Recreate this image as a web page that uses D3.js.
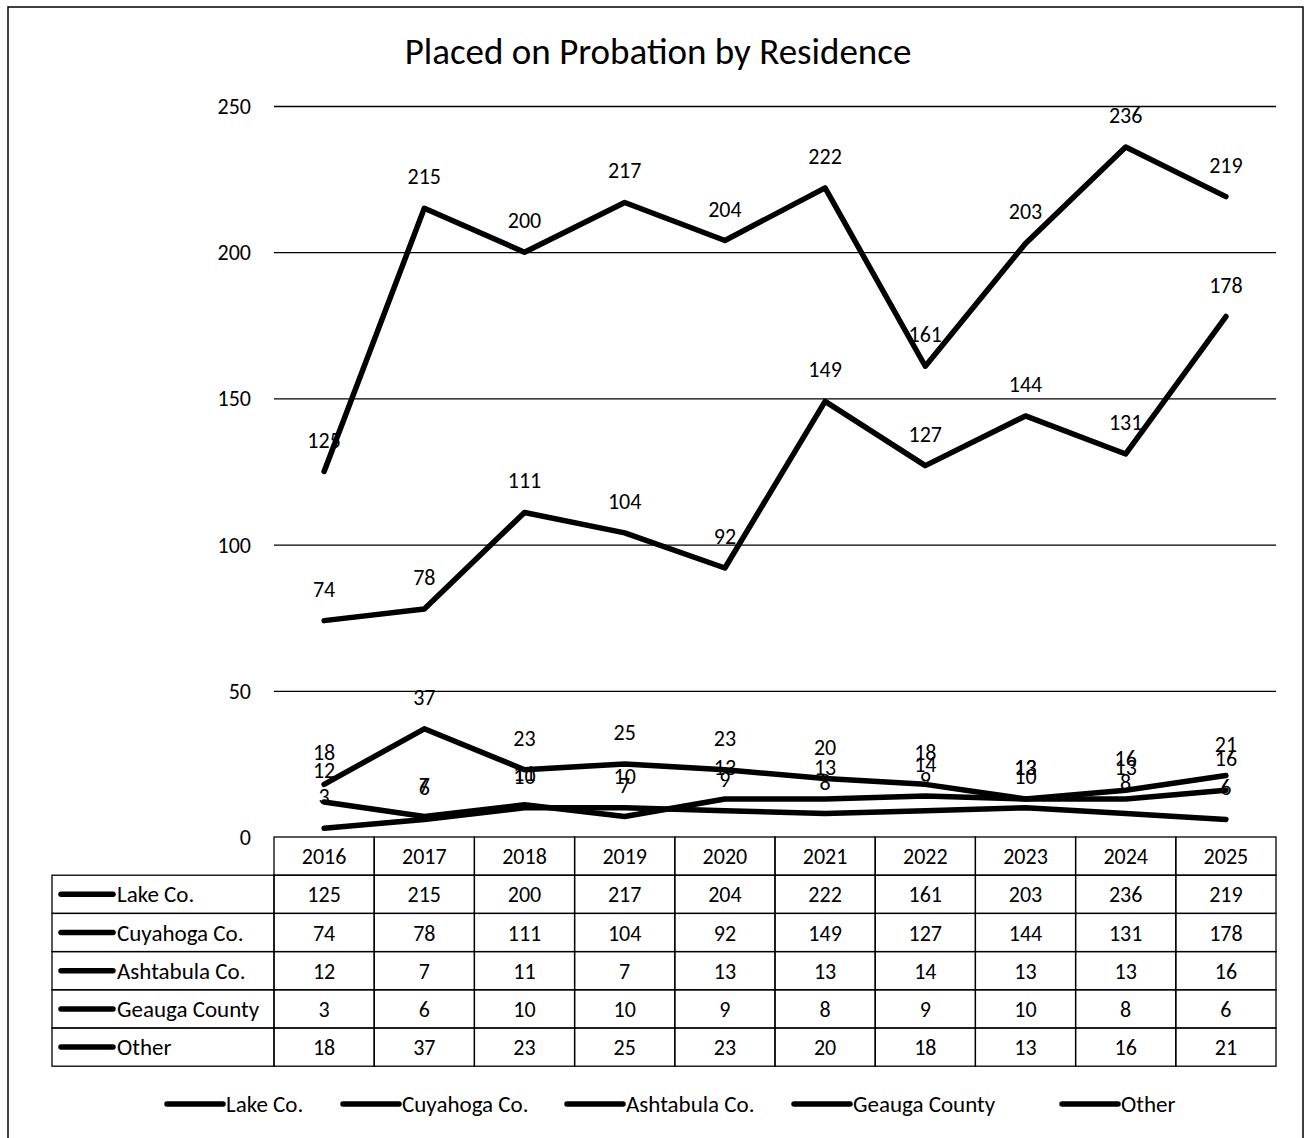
<!DOCTYPE html>
<html>
<head>
<meta charset="utf-8">
<script src="https://cdn.jsdelivr.net/npm/d3@7"></script>
<style>
  body { margin: 0; background: #fff; }
  svg text { font-family: Calibri, Carlito, Lato, sans-serif; fill: #000; }
</style>
</head>
<body>
<svg id="chart"></svg>
<script>
const years = ['2016', '2017', '2018', '2019', '2020', '2021', '2022', '2023', '2024', '2025'];
const seriesNames = ['Lake Co.', 'Cuyahoga Co.', 'Ashtabula Co.', 'Geauga County', 'Other'];
const lake = [125, 215, 200, 217, 204, 222, 161, 203, 236, 219];
const cuyahoga = [74, 78, 111, 104, 92, 149, 127, 144, 131, 178];
const ashtabula = [12, 7, 11, 7, 13, 13, 14, 13, 13, 16];
const geauga = [3, 6, 10, 10, 9, 8, 9, 10, 8, 6];
const other = [18, 37, 23, 25, 23, 20, 18, 13, 16, 21];
const yTicks = [0, 50, 100, 150, 200, 250];

const series = [lake, cuyahoga, ashtabula, geauga, other];

const W = 1307, H = 1138;
const plotL = 274, plotR = 1276, plotT = 106, plotB = 837;
const rowH = 38.2;
const tableLeft = 52;
const numSize = '22px', nameSize = '23px';

const svg = d3.select('#chart').attr('width', W).attr('height', H);

// outer frame
svg.append('rect')
  .attr('x', 8).attr('y', 7)
  .attr('width', 1295).attr('height', 1140)
  .attr('fill', 'none').attr('stroke', '#000').attr('stroke-width', 1.5);

const x = d3.scaleBand().domain(years).range([plotL, plotR]);
const y = d3.scaleLinear().domain([0, 250]).range([plotB, plotT]);

// title
svg.append('text')
  .attr('x', 658).attr('y', 64)
  .attr('text-anchor', 'middle')
  .style('font-size', '37px')
  .text('Placed on Probation by Residence');

// gridlines
const grid = d3.axisLeft(y).tickValues(yTicks.filter(d => d > 0)).tickSize(-(plotR - plotL)).tickFormat('');
svg.append('g')
  .attr('transform', 'translate(' + plotL + ',0)')
  .call(grid)
  .call(g => g.select('.domain').remove())
  .selectAll('line').attr('stroke', '#000').attr('stroke-width', 1.3);

// y labels
svg.append('g').selectAll('text')
  .data(yTicks)
  .enter()
  .append('text')
  .attr('x', 251)
  .attr('y', d => y(d) + 8)
  .attr('text-anchor', 'end')
  .style('font-size', numSize)
  .text(d => d);

// lines
const line = d3.line()
  .x((d, i) => x(years[i]) + x.bandwidth() / 2)
  .y(d => y(d));

svg.append('g').selectAll('path')
  .data(series)
  .enter()
  .append('path')
  .attr('d', d => line(d))
  .attr('fill', 'none')
  .attr('stroke', '#000')
  .attr('stroke-width', 5.5)
  .attr('stroke-linejoin', 'round')
  .attr('stroke-linecap', 'round');

// data labels (sit above each point, overlapping like the original)
series.forEach(s => {
  svg.append('g').selectAll('text')
    .data(s)
    .enter()
    .append('text')
    .attr('x', (d, i) => x(years[i]) + x.bandwidth() / 2)
    .attr('y', d => y(d) - 24)
    .attr('text-anchor', 'middle')
    .style('font-size', numSize)
    .text(d => d);
});

// data table
const table = svg.append('g');

// header row
years.forEach(yr => {
  table.append('rect')
    .attr('x', x(yr)).attr('y', plotB)
    .attr('width', x.bandwidth()).attr('height', rowH)
    .attr('fill', 'none').attr('stroke', '#000').attr('stroke-width', 1.3);
  table.append('text')
    .attr('x', x(yr) + x.bandwidth() / 2)
    .attr('y', plotB + rowH / 2 + 8)
    .attr('text-anchor', 'middle')
    .style('font-size', numSize)
    .text(yr);
});

seriesNames.forEach((name, r) => {
  const ry = plotB + rowH * (r + 1);
  table.append('rect')
    .attr('x', tableLeft).attr('y', ry)
    .attr('width', plotL - tableLeft).attr('height', rowH)
    .attr('fill', 'none').attr('stroke', '#000').attr('stroke-width', 1.3);
  table.append('line')
    .attr('x1', 61).attr('x2', 113)
    .attr('y1', ry + rowH / 2).attr('y2', ry + rowH / 2)
    .attr('stroke', '#000').attr('stroke-width', 5.5).attr('stroke-linecap', 'round');
  table.append('text')
    .attr('x', 117).attr('y', ry + rowH / 2 + 8)
    .style('font-size', nameSize)
    .text(name);
  series[r].forEach((v, i) => {
    table.append('rect')
      .attr('x', x(years[i])).attr('y', ry)
      .attr('width', x.bandwidth()).attr('height', rowH)
      .attr('fill', 'none').attr('stroke', '#000').attr('stroke-width', 1.3);
    table.append('text')
      .attr('x', x(years[i]) + x.bandwidth() / 2)
      .attr('y', ry + rowH / 2 + 8)
      .attr('text-anchor', 'middle')
      .style('font-size', numSize)
      .text(v);
  });
});

// legend
const legendX = [167, 343, 567, 794, 1062];
const legend = svg.append('g');
seriesNames.forEach((name, i) => {
  legend.append('line')
    .attr('x1', legendX[i]).attr('x2', legendX[i] + 56)
    .attr('y1', 1104).attr('y2', 1104)
    .attr('stroke', '#000').attr('stroke-width', 5.5).attr('stroke-linecap', 'round');
  legend.append('text')
    .attr('x', legendX[i] + 59).attr('y', 1112)
    .style('font-size', nameSize)
    .text(name);
});
</script>
</body>
</html>
